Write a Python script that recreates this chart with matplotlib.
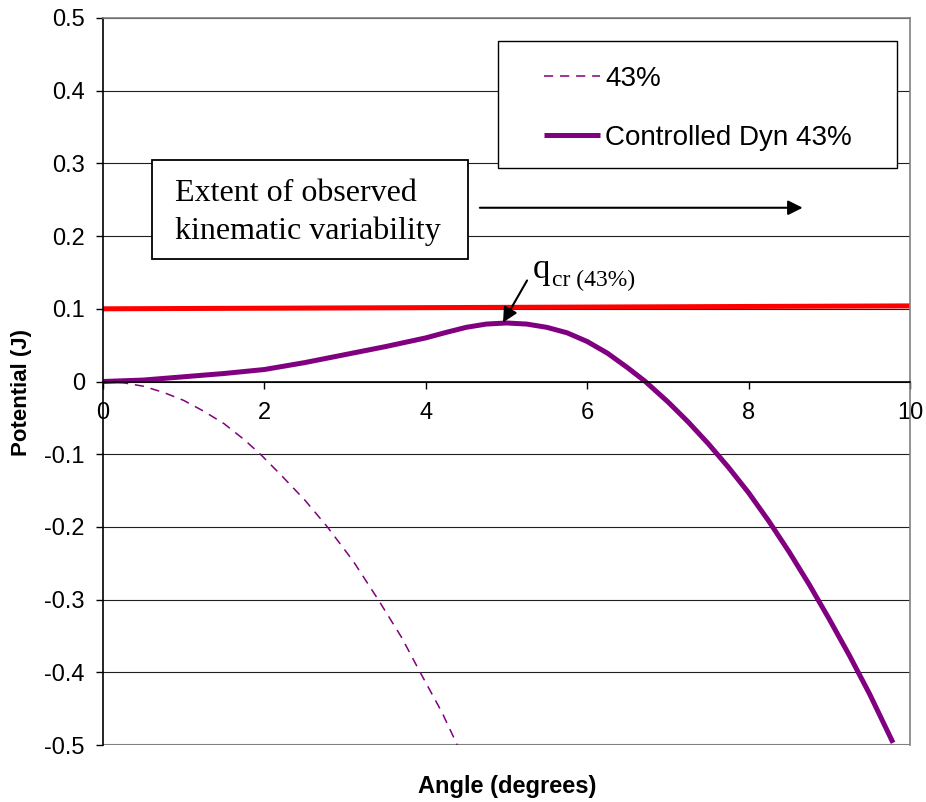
import matplotlib
matplotlib.use("Agg")
import matplotlib.pyplot as plt
from matplotlib.patches import Rectangle

# data
angle_dyn = [0, 0.5, 1, 1.5, 2, 2.5, 3, 3.5, 4, 4.25, 4.5, 4.75, 5, 5.25, 5.5, 5.75,
             6, 6.25, 6.5, 6.72, 7, 7.25, 7.5, 7.75, 8, 8.25, 8.5, 8.75, 9, 9.25,
             9.5, 9.79]
pot_dyn = [0, 0.002, 0.0065, 0.011, 0.0165, 0.026, 0.037, 0.048, 0.060, 0.0675,
           0.0745, 0.0790, 0.0805, 0.0790, 0.0745, 0.067, 0.055, 0.039, 0.019, 0.0,
           -0.028, -0.0555, -0.0855, -0.118, -0.153, -0.192, -0.234, -0.279, -0.327,
           -0.377, -0.43, -0.497]
angle_43 = [0, 0.25, 0.5, 0.75, 1, 1.25, 1.5, 1.75, 1.95, 2.2, 2.5, 2.78, 3.1,
            3.41, 3.7, 3.93, 4.2, 4.39]
pot_43 = [0, -0.0017, -0.0065, -0.015, -0.026, -0.041, -0.058, -0.08, -0.1, -0.128,
          -0.163, -0.2, -0.247, -0.3, -0.352, -0.4, -0.455, -0.5]
angle_lim = [0, 10]
pot_lim = [0.1, 0.104]

xticks = [0, 2, 4, 6, 8, 10]
yticks = [0.5, 0.4, 0.3, 0.2, 0.1, 0, -0.1, -0.2, -0.3, -0.4, -0.5]
ylabels = ["0.5", "0.4", "0.3", "0.2", "0.1", "0", "-0.1", "-0.2", "-0.3", "-0.4", "-0.5"]

purple = "#800080"
sans = "Liberation Sans"
serif = "Liberation Serif"

fig = plt.figure(figsize=(9.26, 8.02), dpi=100)
ax = fig.add_axes([103/926, 57/802, 807/926, 727/802])

# move the x axis first, it resets the ticks
ax.spines["bottom"].set_position(("data", 0))
ax.spines["bottom"].set_color("black")
ax.spines["left"].set_color("black")
ax.spines["top"].set_color("#808080")
ax.spines["right"].set_color("#808080")
for s in ax.spines.values():
    s.set_linewidth(1.2)

l1, = ax.plot(angle_43, pot_43, color=purple, lw=1.1, ls=(0, (6, 4.5)), label="43%")
l2, = ax.plot(angle_dyn, pot_dyn, color=purple, lw=3.6, solid_capstyle="butt",
              solid_joinstyle="round", label="Controlled Dyn 43%")
ax.plot(angle_lim, pot_lim, color="#ff0000", lw=3.6, solid_capstyle="butt")

ax.set_xlim(0, 10)
ax.set_ylim(-0.5, 0.5)
ax.set_xticks(xticks)
ax.set_xticklabels([str(t) for t in xticks], family=sans, fontsize=17)
ax.set_yticks(yticks)
ax.set_yticklabels(ylabels, family=sans, fontsize=17)
ax.tick_params(axis="both", direction="out", length=5, width=1, color="black")
ax.tick_params(axis="x", pad=10)
ax.tick_params(axis="y", pad=8)

ax.yaxis.grid(True, color="#202020", lw=0.8)
ax.set_axisbelow(True)
ax.axhline(-0.5, color="#808080", lw=1.5, zorder=1)

fig.text(22/926, 1 - 392/802, "Potential (J)", rotation=90, ha="center", va="center",
         family=sans, fontsize=16, fontweight="bold")
fig.text(507/926, 1 - 787/802, "Angle (degrees)", ha="center", va="center",
         family=sans, fontsize=17, fontweight="bold")

# legend box
ax.add_patch(Rectangle((0.4895, 0.794), 0.4945, 0.174, transform=ax.transAxes,
                       facecolor="white", edgecolor="black", lw=1, zorder=4))
leg = ax.legend(handles=[l1, l2], loc="center left", bbox_to_anchor=(0.5465, 0.8755),
                frameon=False, borderpad=0, borderaxespad=0, handlelength=2.0,
                handletextpad=0.2, labelspacing=1.2, prop={"family": sans, "size": 20})
leg.set_zorder(5)

# text box with arrow
ax.add_patch(Rectangle((0.607, 0.169), 3.916, 0.136, facecolor="white",
                       edgecolor="black", lw=1.3, zorder=4))
ax.text(0.89, 0.2325, "Extent of observed\nkinematic variability", ha="left", va="center",
        family=serif, fontsize=23, linespacing=1.35, zorder=5)
ax.annotate("", xy=(8.67, 0.239), xytext=(4.67, 0.239),
            arrowprops=dict(arrowstyle="-|>", color="black", lw=1.5, mutation_scale=22,
                            shrinkA=0, shrinkB=0))

# q_cr label
q = ax.text(5.33, 0.143, "q", family=serif, fontsize=25, va="baseline", ha="left")
ax.annotate("cr (43%)", xy=(1, 0), xycoords=q, xytext=(1, 0), textcoords="offset points",
            family=serif, fontsize=17, va="baseline", ha="left")
ax.annotate("", xy=(4.957, 0.0812), xytext=(5.255, 0.139),
            arrowprops=dict(arrowstyle="-|>", color="black", lw=1.5, mutation_scale=22,
                            shrinkA=0, shrinkB=0))

fig.savefig("out.png", dpi=100)
